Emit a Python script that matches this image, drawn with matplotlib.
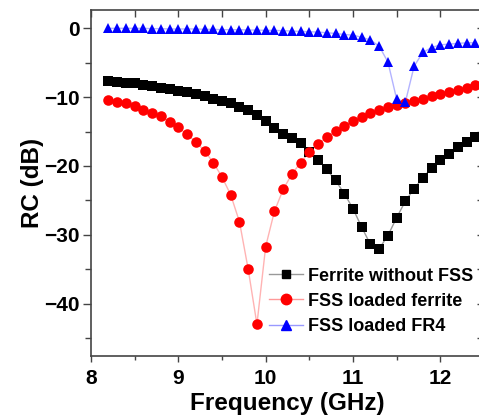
import numpy as np
import matplotlib
matplotlib.use("Agg")
import matplotlib.pyplot as plt
from matplotlib.ticker import MultipleLocator
from matplotlib.lines import Line2D

plt.rcParams['font.family'] = ['Liberation Sans', 'DejaVu Sans']
plt.rcParams['font.weight'] = 'bold'

freq = [8.2, 8.3, 8.4, 8.5, 8.6, 8.7, 8.8, 8.9, 9.0, 9.1, 9.2, 9.3, 9.4, 9.5,
        9.6, 9.7, 9.8, 9.9, 10.0, 10.1, 10.2, 10.3, 10.4, 10.5, 10.6, 10.7,
        10.8, 10.9, 11.0, 11.1, 11.2, 11.3, 11.4, 11.5, 11.6, 11.7, 11.8,
        11.9, 12.0, 12.1, 12.2, 12.3, 12.4]

ferrite_no_fss = [-7.7, -7.8, -7.9, -8.0, -8.2, -8.4, -8.6, -8.8, -9.1, -9.3,
                  -9.6, -9.9, -10.2, -10.5, -10.9, -11.4, -11.9, -12.6, -13.4,
                  -14.5, -15.3, -15.9, -16.7, -17.9, -19.1, -20.5, -22.1, -24.0,
                  -26.2, -28.9, -31.4, -32.0, -30.1, -27.5, -25.1, -23.3, -21.7,
                  -20.3, -19.2, -18.2, -17.3, -16.5, -15.8]

fss_ferrite = [-10.4, -10.7, -10.9, -11.3, -11.8, -12.3, -12.8, -13.6, -14.4,
               -15.4, -16.5, -17.8, -19.5, -21.6, -24.2, -28.1, -35.0, -43.0,
               -31.7, -26.6, -23.4, -21.2, -19.5, -18.0, -16.8, -15.8, -14.9,
               -14.2, -13.5, -12.9, -12.3, -11.9, -11.5, -11.2, -10.9, -10.5,
               -10.3, -9.9, -9.6, -9.2, -8.9, -8.6, -8.3]

fss_fr4 = [0.0, 0.0, 0.0, 0.0, 0.0, -0.05, -0.05, -0.1, -0.1, -0.1, -0.1,
           -0.15, -0.15, -0.2, -0.2, -0.2, -0.25, -0.25, -0.3, -0.3, -0.35,
           -0.4, -0.45, -0.5, -0.55, -0.65, -0.75, -0.9, -1.0, -1.3, -1.7,
           -2.6, -4.9, -10.3, -10.7, -5.5, -3.5, -2.8, -2.4, -2.3, -2.2,
           -2.1, -2.1]

labels = ['Ferrite without FSS', 'FSS loaded ferrite', 'FSS loaded FR4']

MS_SQ, MS_CI, MS_TR = 7.0, 7.6, 7.8

fig = plt.figure(figsize=(4.79, 4.19), dpi=100)
ax = fig.add_axes([91/479, 1-356/419, (484-91)/479, (356-10)/419])

ax.plot(freq, ferrite_no_fss, '-', color=(0.6, 0.6, 0.6), lw=1.0, zorder=2)
ax.plot(freq, fss_ferrite, '-', color=(1.0, 0.7, 0.7), lw=1.0, zorder=2)
ax.plot(freq, fss_fr4, '-', color=(0.7, 0.7, 1.0), lw=1.0, zorder=2)
ax.plot(freq, ferrite_no_fss, 's', color='black', ms=MS_SQ, mew=0, zorder=3)
ax.plot(freq, fss_ferrite, 'o', color='red', ms=MS_CI, mew=0, zorder=3)
ax.plot(freq, fss_fr4, '^', color='blue', ms=MS_TR, mew=0, zorder=4)

h1 = Line2D([], [], color=(0.6, 0.6, 0.6), lw=1.0, marker='s', mfc='black', mec='black', ms=6.0)
h2 = Line2D([], [], color=(1.0, 0.6, 0.6), lw=1.0, marker='o', mfc='red', mec='red', ms=7.5)
h3 = Line2D([], [], color=(0.6, 0.6, 1.0), lw=1.0, marker='^', mfc='blue', mec='blue', ms=7.5)
leg = ax.legend([h1, h2, h3], labels, loc='upper left',
                bbox_to_anchor=((256-91)/393, 1-(255-10)/346),
                frameon=False, fontsize=13, handlelength=1.9, handletextpad=0.3,
                labelspacing=0.45, borderpad=0.2, numpoints=1)
for t in leg.get_texts():
    t.set_fontweight('bold')

ax.set_xlim(8, 12.5)
ax.set_ylim(-47.6, 2.66)
ax.xaxis.set_major_locator(MultipleLocator(1))
ax.xaxis.set_minor_locator(MultipleLocator(0.5))
ax.yaxis.set_major_locator(MultipleLocator(10))
ax.yaxis.set_minor_locator(MultipleLocator(5))

spine_c = '#444444'
for s in ax.spines.values():
    s.set_color(spine_c)
    s.set_linewidth(1.2)

ax.tick_params(axis='both', which='both', color=spine_c, width=1.0)
ax.tick_params(axis='x', which='major', direction='out', length=4, labelsize=15, pad=5)
ax.tick_params(axis='x', which='minor', direction='out', length=3)
ax.tick_params(axis='y', which='major', direction='out', length=6, labelsize=15, pad=2)
ax.tick_params(axis='y', which='minor', direction='out', length=4)

axt = ax.secondary_xaxis('top')
axt.xaxis.set_major_locator(MultipleLocator(1))
axt.xaxis.set_minor_locator(MultipleLocator(0.5))
axt.tick_params(axis='x', which='both', direction='in', length=5, color=spine_c, labeltop=False, width=1.0)
axt.spines['top'].set_visible(False)
axr = ax.secondary_yaxis('right')
axr.yaxis.set_major_locator(MultipleLocator(10))
axr.yaxis.set_minor_locator(MultipleLocator(5))
axr.tick_params(axis='y', which='both', direction='in', length=5, color=spine_c, labelright=False, width=1.0)
axr.spines['right'].set_visible(False)

for lab in ax.get_xticklabels() + ax.get_yticklabels():
    lab.set_fontweight('bold')

ax.set_xlabel('Frequency (GHz)', fontsize=17.5, fontweight='bold', labelpad=3)
ax.set_ylabel('RC (dB)', fontsize=17.5, fontweight='bold', labelpad=0)

fig.savefig('out.png', dpi=100)
